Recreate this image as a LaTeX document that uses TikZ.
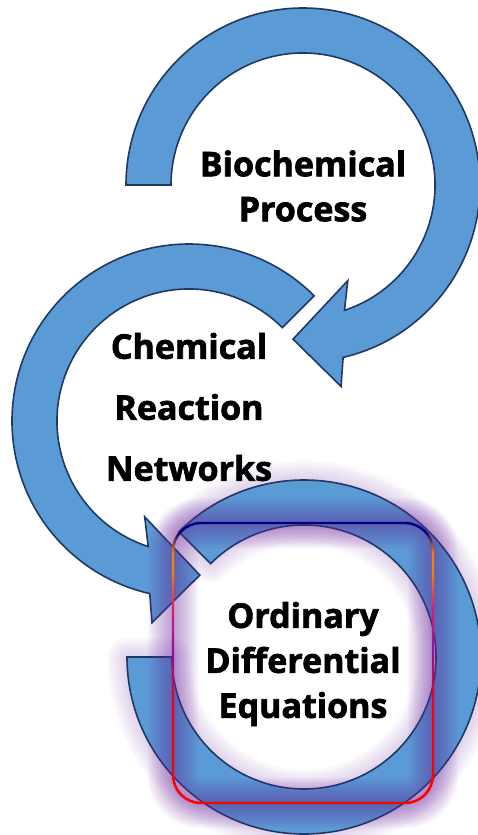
\documentclass[tikz,border=0pt]{standalone}
\usepackage{fontspec}
\setmainfont{Open Sans}[BoldFeatures={FakeBold=2}]
\usepackage{tikz}
\definecolor{bandblue}{HTML}{5B9BD5}
\definecolor{bandline}{HTML}{1F3864}
\definecolor{glowpurple}{HTML}{7030A0}
\definecolor{rimnavy}{HTML}{000080}
\definecolor{rimorange}{HTML}{FF8000}
\definecolor{rimcrimson}{HTML}{E0206A}
\definecolor{rimpurple}{HTML}{9010A0}
\definecolor{rimred}{HTML}{FF0000}
% stroke colours of the frame, bottom (25bp) to top (75bp)
\pgfdeclareverticalshading{rimshade}{100bp}{color(0bp)=(rimred); color(40.8bp)=(rimred);
  color(52.3bp)=(rimpurple); color(60bp)=(rimcrimson); color(66bp)=(rimorange);
  color(69.5bp)=(rimorange); color(73.2bp)=(rimnavy); color(100bp)=(rimnavy)}
\tikzset{
  band/.style={
    fill=bandblue,           % arrow body
    draw=bandline,           % dark outline
    line width=1.6pt,
    line join=miter,
  },
  glow/.style={draw=glowpurple, line join=round},
  steptext/.style={align=center, font=\bfseries\fontsize{34}{45}\selectfont},
}

\begin{document}
\begin{tikzpicture}[x=1pt, y=1pt]
    \useasboundingbox (0,0) rectangle (477,-835);
    % Centres of the three rings
    \coordinate (top) at (303,-185);
    \coordinate (mid) at (189,-421);
    \coordinate (low) at (304,-657);
    \def\lowband{([shift={(low)}]180:177pt) arc[start angle=180, end angle=495, radius=177pt]
      -- ([shift={(low)}]135:132pt) arc[start angle=495, end angle=180, radius=132pt] -- cycle}

    % Upper arrow, clockwise
    \draw[band] ([shift={(top)}]180:177pt) arc[start angle=180, end angle=-76.9, radius=177pt]
      -- ([shift={(top)}]-79.3:205pt) -- ([shift={(top)}]-93.7:154.5pt)
      -- ([shift={(top)}]-64.9:105.6pt) -- ([shift={(top)}]-71.7:132pt)
      arc[start angle=-71.7, end angle=180, radius=132pt] -- cycle;

    % Middle arrow, counter clockwise
    \draw[band] ([shift={(mid)}]45:177pt) arc[start angle=45, end angle=257.2, radius=177pt]
      -- ([shift={(mid)}]259.6:205pt) -- ([shift={(mid)}]274:154.5pt)
      -- ([shift={(mid)}]245.2:105.6pt) -- ([shift={(mid)}]252:132pt)
      arc[start angle=252, end angle=45, radius=132pt] -- cycle;

    % Lower ring with its glow
    \foreach \w in {4,8,...,40}
      \path[glow, line width=\w pt, draw opacity=0.022] \lowband;
    \draw[band] \lowband;

    % Glowing frame
    \foreach \w in {3,6,...,51}
      \draw[glow, line width=\w pt, draw opacity=0.034, rounded corners=28pt]
        (173,-523) rectangle (433,-803);
    \shade[shading=rimshade, even odd rule, rounded corners=29pt]
      (171.8,-521.8) rectangle (434.2,-804.2) [rounded corners=27pt] (174.2,-524.2) rectangle (431.8,-801.8);

    % Labels
    \node[steptext] (bio) at (303,-186) {Biochemical\\Process};
    \node[steptext, font=\bfseries\fontsize{34}{61}\selectfont] (crn) at (189,-407) {Chemical\\Reaction\\Networks};
    \node[steptext] (ode) at (303,-664) {Ordinary\\Differential\\Equations};
\end{tikzpicture}
\end{document}
